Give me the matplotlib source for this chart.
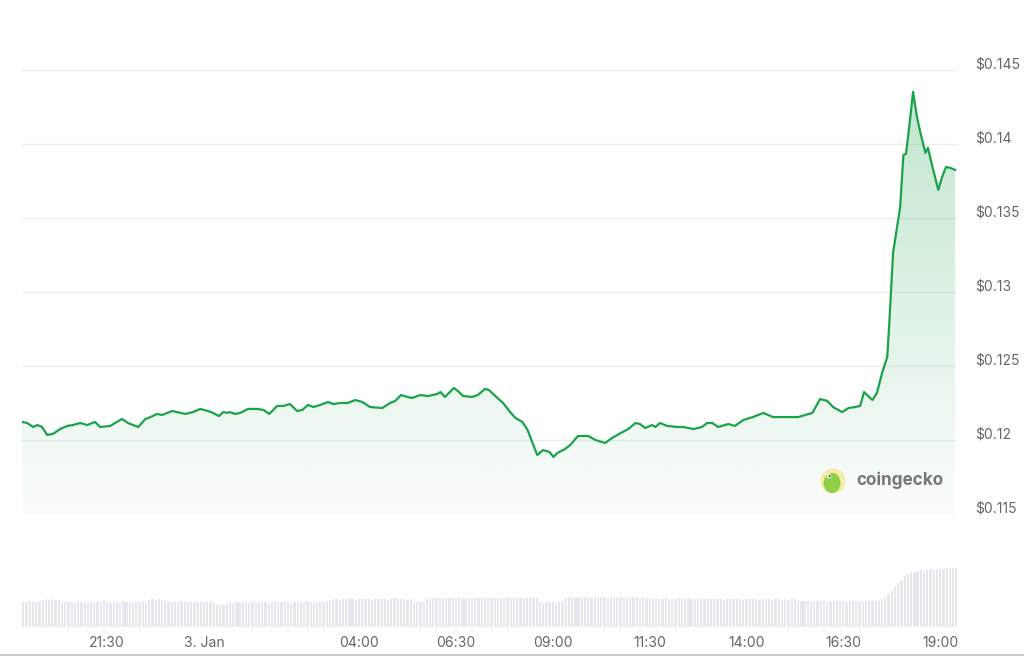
import numpy as np
import matplotlib
matplotlib.use("Agg")
import matplotlib.pyplot as plt
from matplotlib.patches import Circle, Ellipse
import matplotlib.transforms as mtransforms

plt.rcParams['font.family'] = ['Inter', 'DejaVu Sans']

# ---- price series: minutes relative to 3 Jan 00:00, price in USD ----
price_minutes = [
    -282, -274, -265, -258, -251, -243, -234, -223, -212, -203, -192, -181, -169, -161,
    -145, -138, -127, -118, -102, -91, -83, -73, -65, -57, -49, -42, -29, -17, -6,
    6, 14, 23, 30, 36, 40, 48, 56, 68, 82, 92, 101, 113, 123, 133, 144, 152, 161, 169,
    180, 192, 200, 211, 222, 234, 245, 257, 276, 288, 296, 305, 315, 322, 335, 347, 361,
    366, 373, 387, 393, 401, 415, 424, 435, 441, 451, 463, 474, 482, 493, 501, 508, 516,
    525, 535, 541, 547, 559, 567, 579, 595, 606, 621, 632, 648, 657, 668, 675, 683, 694,
    699, 706, 717, 733, 742, 758, 771, 779, 787, 796, 812, 822, 835, 850, 866, 881, 903,
    920, 931, 942, 954, 965, 974, 988, 998, 1008, 1016, 1022, 1035, 1042, 1050, 1058,
    1061, 1064, 1067, 1078, 1083, 1087, 1092, 1098, 1104, 1109, 1117, 1121, 1128, 1137,
    1143, 1149, 1156, 1163,
]
price_values = [
    0.12122, 0.12115, 0.12088, 0.12101, 0.12088, 0.12034, 0.12041, 0.12074, 0.12095, 0.12101,
    0.12115, 0.12101, 0.12122, 0.12088, 0.12095, 0.12115, 0.12142, 0.12115, 0.12088, 0.12142,
    0.12155, 0.12176, 0.12169, 0.12183, 0.12196, 0.12189, 0.12176, 0.12189, 0.12210, 0.12196,
    0.12183, 0.12162, 0.12189, 0.12183, 0.12189, 0.12176, 0.12183, 0.12210, 0.12210, 0.12203,
    0.12176, 0.12230, 0.12230, 0.12243, 0.12196, 0.12203, 0.12237, 0.12223, 0.12237, 0.12257,
    0.12243, 0.12250, 0.12250, 0.12270, 0.12257, 0.12223, 0.12216, 0.12250, 0.12264, 0.12304,
    0.12291, 0.12284, 0.12304, 0.12297, 0.12311, 0.12324, 0.12291, 0.12352, 0.12331, 0.12297,
    0.12291, 0.12304, 0.12345, 0.12338, 0.12297, 0.12250, 0.12189, 0.12149, 0.12122, 0.12068,
    0.11986, 0.11899, 0.11932, 0.11919, 0.11885, 0.11912, 0.11939, 0.11966, 0.12027, 0.12027,
    0.12000, 0.11980, 0.12014, 0.12054, 0.12074, 0.12115, 0.12108, 0.12081, 0.12101, 0.12088,
    0.12115, 0.12095, 0.12088, 0.12088, 0.12074, 0.12088, 0.12115, 0.12115, 0.12088, 0.12108,
    0.12095, 0.12135, 0.12155, 0.12183, 0.12155, 0.12155, 0.12155, 0.12169, 0.12183, 0.12277,
    0.12264, 0.12223, 0.12189, 0.12216, 0.12223, 0.12230, 0.12324, 0.12270, 0.12318, 0.12453,
    0.12561, 0.12777, 0.13014, 0.13264, 0.13575, 0.13926, 0.13933, 0.14116, 0.14352, 0.14183,
    0.14082, 0.13940, 0.13974, 0.13845, 0.13690, 0.13778, 0.13845, 0.13838, 0.13825,
]

# ---- volume (5-minute bars, relative units), one row per hour ----
volume_start = -280
volume_step = 5
volume_values = [
    102, 100, 104, 101, 99, 103, 108, 111, 109, 112, 110, 107,
    101, 99, 102, 100, 98, 103, 101, 100, 97, 102, 100, 99,
    101, 103, 100, 98, 102, 100, 99, 104, 101, 100, 98, 102,
    100, 103, 99, 108, 111, 110, 112, 109, 104, 102, 100, 103,
    101, 104, 102, 100, 103, 101, 99, 102, 100, 104, 101, 97,
    93, 89, 88, 91, 100, 98, 101, 99, 102, 100, 98, 101,
    100, 102, 99, 101, 98, 100, 103, 101, 99, 100, 102, 98,
    101, 99, 102, 100, 103, 100, 98, 101, 100, 102, 104, 110,
    112, 114, 110, 113, 111, 115, 112, 110, 113, 111, 114, 112,
    110, 113, 111, 114, 112, 110, 113, 115, 112, 111, 113, 110,
    112, 102, 99, 100, 101, 112, 116, 118, 115, 117, 114, 116,
    118, 115, 117, 119, 116, 114, 117, 118, 115, 116, 119, 117,
    115, 117, 118, 116, 114, 117, 119, 116, 118, 115, 117, 116,
    118, 116, 115, 117, 101, 98, 100, 99, 102, 97, 100, 104,
    116, 119, 121, 118, 120, 122, 119, 121, 118, 120, 122, 119,
    121, 118, 120, 122, 119, 121, 120, 118, 121, 119, 120, 117,
    121, 116, 114, 113, 115, 112, 114, 116, 113, 114, 112, 115,
    113, 114, 116, 112, 114, 113, 115, 112, 114, 113, 111, 113,
    112, 110, 113, 111, 112, 114, 111, 110, 112, 113, 111, 112,
    110, 112, 111, 113, 110, 112, 111, 109, 112, 110, 111, 112,
    106, 104, 103, 105, 102, 104, 103, 105, 104, 102, 104, 103,
    104, 103, 105, 102, 104, 103, 104, 102, 105, 103, 104, 103,
    105, 108, 112, 120, 132, 146, 160, 176, 190, 204, 214, 220,
    222, 225, 228, 226, 229, 231, 230, 233, 232, 234, 235, 236,
    236, 237,
]

x_tick_minutes = [-150, 0, 240, 390, 540, 690, 840, 990, 1140]
x_tick_labels = ["21:30", "3. Jan", "04:00", "06:30", "09:00", "11:30", "14:00", "16:30", "19:00"]
y_tick_values = [0.115, 0.12, 0.125, 0.13, 0.135, 0.14, 0.145]
y_tick_labels = ["$0.115", "$0.12", "$0.125", "$0.13", "$0.135", "$0.14", "$0.145"]

LINE = "#1aa34a"
TXT = "#666666"
W, H = 1024, 656

fig = plt.figure(figsize=(W / 100, H / 100), dpi=100)
fig.patch.set_facecolor("white")

x0, x1 = 22, 957
ax = fig.add_axes([x0 / W, (H - 514) / H, (x1 - x0) / W, (514 - 70) / H])
xlim = (-282, 1166)
ylim = (0.115, 0.145)
ax.set_xlim(*xlim)
ax.set_ylim(*ylim)
for s in ax.spines.values():
    s.set_visible(False)
ax.set_xticks([])
ax.set_yticks([])
ax.patch.set_alpha(0)

for v in y_tick_values:
    ax.axhline(v, color="#ececec", lw=0.9, zorder=0)

pm = np.array(price_minutes, dtype=float)
pv = np.array(price_values, dtype=float)

# gradient fill under the line
poly = ax.fill_between(pm, pv, ylim[0], color="none", lw=0)
grad = np.linspace(0.02, 0.28, 256).reshape(-1, 1)
rgba = np.zeros((256, 1, 4))
c = matplotlib.colors.to_rgb(LINE)
rgba[..., 0], rgba[..., 1], rgba[..., 2] = c
rgba[..., 3] = grad
im = ax.imshow(rgba, extent=[xlim[0], xlim[1], ylim[0], ylim[1]], origin="lower",
               aspect="auto", zorder=1, interpolation="bilinear")
path = poly.get_paths()[0]
im.set_clip_path(path, transform=ax.transData)

ax.plot(pm, pv, color=LINE, lw=1.6, zorder=3, solid_joinstyle="round")

# y labels on the right
for v, lab in zip(y_tick_values, y_tick_labels):
    tr = mtransforms.blended_transform_factory(fig.transFigure, ax.transData)
    tr = mtransforms.offset_copy(tr, fig=fig, x=0, y=5, units="dots")
    ax.text(975 / W, v, lab, transform=tr, ha="left", va="center",
            fontsize=10, color=TXT, clip_on=False)

# volume axes
axv = fig.add_axes([x0 / W, (H - 627) / H, (x1 - x0) / W, 67 / H])
axv.set_xlim(*xlim)
axv.set_ylim(0, 268)
for s in axv.spines.values():
    s.set_visible(False)
axv.set_xticks([])
axv.set_yticks([])
axv.patch.set_alpha(0)
vt = volume_start + volume_step * np.arange(len(volume_values))
axv.bar(vt, volume_values, width=volume_step * 0.7, color="#e5e8ed", lw=0)

# x labels
trx = mtransforms.blended_transform_factory(ax.transData, fig.transFigure)
for m, lab in zip(x_tick_minutes, x_tick_labels):
    ax.text(m, (H - 643) / H, lab, transform=trx, ha="center", va="center",
            fontsize=10, color=TXT, clip_on=False)

# bottom rule
fig.add_artist(plt.Line2D([0, 1], [(H - 655) / H] * 2, transform=fig.transFigure,
                          color="#c4c4c4", lw=1.2))

# watermark
axl = fig.add_axes([0, 0, 1, 1])
axl.set_xlim(0, W)
axl.set_ylim(H, 0)
axl.axis("off")
axl.patch.set_alpha(0)
axl.add_patch(Circle((833, 481), 12.5, color="#f7eb9c", alpha=0.9, lw=0))
axl.add_patch(Ellipse((832, 483), 17, 20, color="#8fcf4a", lw=0))
axl.add_patch(Circle((829, 476), 2.2, color="white", lw=0))
axl.add_patch(Circle((829.5, 476), 1.1, color="#4a5a3a", lw=0))
axl.text(856, 480, "coingecko", fontsize=12.3, fontweight="bold", color="#777777",
         ha="left", va="center")

fig.savefig("out.png", dpi=100, facecolor="white")
